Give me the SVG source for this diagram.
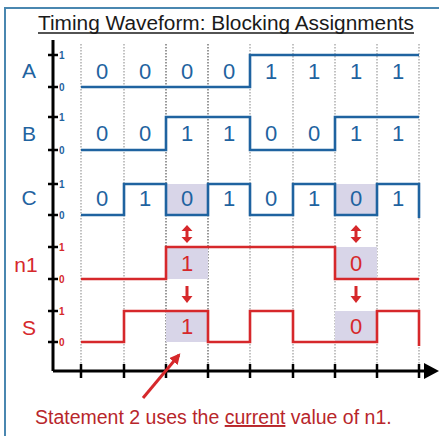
<svg xmlns="http://www.w3.org/2000/svg" width="439" height="436" viewBox="0 0 439 436">
<defs>
<style>
.bg{fill:#ffffff}
.frame{stroke:#4a87b0;stroke-width:2;fill:none}
.grid{stroke:#9a9a9a;stroke-width:1.2;stroke-dasharray:1.5 1.5;fill:none}
.gridd{stroke:#555;stroke-width:1.2;stroke-dasharray:1.5 1.5;fill:none}
.axis{stroke:#000;stroke-width:3;fill:none}
.tick{stroke:#000;stroke-width:2.5}
.blue{stroke:#1f63a0;stroke-width:2.6;fill:none;stroke-linejoin:miter}
.red{stroke:#d6282b;stroke-width:2.6;fill:none;stroke-linejoin:miter}
.shade{fill:#d8d5e8}
.sig{font-family:"Liberation Sans",Arial,sans-serif;font-size:21px;text-anchor:middle}
.dig{font-family:"Liberation Sans",Arial,sans-serif;font-size:22px;text-anchor:middle}
.tl{font-family:"Liberation Sans",Arial,sans-serif;font-size:10px;font-weight:bold;text-anchor:start}
.b{fill:#1f63a0}
.r{fill:#d6282b}
.arr{stroke:#d6282b;stroke-width:3;fill:none}
.head{fill:#d6282b}
</style>
<marker id="ah" viewBox="0 0 10 10" refX="8" refY="5" markerWidth="3.6" markerHeight="3.6" orient="auto-start-reverse">
<path d="M0,0 L10,5 L0,10 z" fill="#d6282b"/>
</marker>
</defs>
<rect class="bg" x="0" y="0" width="439" height="436"/>
<path class="frame" d="M5,436 V8 H439"/>

<g id="title">
<text x="226" y="30" font-family="Liberation Sans,Arial,sans-serif" font-size="19.5" fill="#1a1a1a" text-anchor="middle" textLength="376" lengthAdjust="spacingAndGlyphs">Timing Waveform: Blocking Assignments</text>
<line x1="38" y1="33" x2="414" y2="33" stroke="#1a1a1a" stroke-width="1.5"/>
</g>

<g id="grid">
<line class="grid" x1="81" y1="44" x2="81" y2="366"/>
<line class="grid" x1="124" y1="44" x2="124" y2="366"/>
<line class="gridd" x1="166" y1="44" x2="166" y2="366"/>
<line class="gridd" x1="208" y1="44" x2="208" y2="366"/>
<line class="grid" x1="250" y1="44" x2="250" y2="366"/>
<line class="grid" x1="293" y1="44" x2="293" y2="366"/>
<line class="grid" x1="335" y1="44" x2="335" y2="366"/>
<line class="grid" x1="377" y1="44" x2="377" y2="366"/>
<line class="grid" x1="419" y1="44" x2="419" y2="366"/>
</g>

<g id="shading">
<rect class="shade" x="166" y="184" width="42" height="31"/>
<rect class="shade" x="335" y="184" width="42" height="31"/>
<rect class="shade" x="166" y="247" width="42" height="32"/>
<rect class="shade" x="335" y="247" width="42" height="32"/>
<rect class="shade" x="166" y="311" width="42" height="31"/>
<rect class="shade" x="335" y="311" width="42" height="31"/>
</g>

<g id="axes">
<line class="axis" x1="53" y1="40" x2="53" y2="371"/>
<line class="axis" x1="53" y1="371" x2="428" y2="371"/>
<path d="M424,363 L439,371 L424,379 z" fill="#000"/>
<g class="tick">
<line x1="81" y1="364" x2="81" y2="378"/>
<line x1="124" y1="364" x2="124" y2="378"/>
<line x1="166" y1="364" x2="166" y2="378"/>
<line x1="208" y1="364" x2="208" y2="378"/>
<line x1="250" y1="364" x2="250" y2="378"/>
<line x1="293" y1="364" x2="293" y2="378"/>
<line x1="335" y1="364" x2="335" y2="378"/>
<line x1="377" y1="364" x2="377" y2="378"/>
<line x1="419" y1="364" x2="419" y2="378"/>
<line x1="48" y1="55" x2="58" y2="55"/>
<line x1="48" y1="87" x2="58" y2="87"/>
<line x1="48" y1="117" x2="58" y2="117"/>
<line x1="48" y1="150" x2="58" y2="150"/>
<line x1="48" y1="184" x2="58" y2="184"/>
<line x1="48" y1="215" x2="58" y2="215"/>
<line x1="48" y1="247" x2="58" y2="247"/>
<line x1="48" y1="279" x2="58" y2="279"/>
<line x1="48" y1="311" x2="58" y2="311"/>
<line x1="48" y1="342" x2="58" y2="342"/>
</g>
<g class="tl">
<text class="b" x="59" y="59">1</text>
<text class="b" x="59" y="91">0</text>
<text class="b" x="59" y="121">1</text>
<text class="b" x="59" y="154">0</text>
<text class="b" x="59" y="188">1</text>
<text class="b" x="59" y="219">0</text>
<text class="r" x="59" y="251">1</text>
<text class="r" x="59" y="283">0</text>
<text class="r" x="59" y="315">1</text>
<text class="r" x="59" y="346">0</text>
</g>
</g>

<g id="sigA">
<text class="sig b" x="29" y="78">A</text>
<path class="blue" d="M81,87 H250 V55 H419"/>
<g class="dig b">
<text x="102" y="79">0</text><text x="145" y="79">0</text><text x="187" y="79">0</text><text x="229" y="79">0</text>
<text x="271" y="79">1</text><text x="314" y="79">1</text><text x="356" y="79">1</text><text x="398" y="79">1</text>
</g>
</g>

<g id="sigB">
<text class="sig b" x="29" y="141">B</text>
<path class="blue" d="M81,150 H166 V117 H250 V150 H335 V117 H419"/>
<g class="dig b">
<text x="102" y="141">0</text><text x="145" y="141">0</text><text x="187" y="141">1</text><text x="229" y="141">1</text>
<text x="271" y="141">0</text><text x="314" y="141">0</text><text x="356" y="141">1</text><text x="398" y="141">1</text>
</g>
</g>

<g id="sigC">
<text class="sig b" x="29" y="205">C</text>
<path class="blue" d="M81,215 H124 V184 H166 V215 H208 V184 H250 V215 H293 V184 H335 V215 H377 V184 H419 V218"/>
<g class="dig b">
<text x="102" y="206">0</text><text x="145" y="206">1</text><text x="187" y="206">0</text><text x="229" y="206">1</text>
<text x="271" y="206">0</text><text x="314" y="206">1</text><text x="356" y="206">0</text><text x="398" y="206">1</text>
</g>
</g>

<g id="sigN1">
<text class="sig r" x="26" y="272">n1</text>
<path class="red" d="M81,279 H166 V247 H335 V279 H419"/>
<g class="dig r">
<text x="187" y="271">1</text><text x="356" y="271">0</text>
</g>
</g>

<g id="sigS">
<text class="sig r" x="29" y="335">S</text>
<path class="red" d="M81,342 H124 V311 H208 V342 H250 V311 H293 V342 H377 V311 H419 V346"/>
<g class="dig r">
<text x="187" y="334">1</text><text x="356" y="334">0</text>
</g>
</g>

<g id="connectors">
<line class="arr" x1="187" y1="230" x2="187" y2="238"/>
<path class="head" d="M181.5,231 L187,225 L192.5,231 z M181.5,237 L187,243 L192.5,237 z"/>
<line class="arr" x1="356" y1="230" x2="356" y2="238"/>
<path class="head" d="M350.5,231 L356,225 L361.5,231 z M350.5,237 L356,243 L361.5,237 z"/>
<line class="arr" x1="187" y1="286" x2="187" y2="297"/>
<path class="head" d="M181.5,296 L187,303 L192.5,296 z"/>
<line class="arr" x1="356" y1="286" x2="356" y2="297"/>
<path class="head" d="M350.5,296 L356,303 L361.5,296 z"/>
<line class="arr" x1="143" y1="398" x2="179" y2="355" marker-end="url(#ah)"/>
</g>

<g id="note">
<text x="35" y="424" font-family="Liberation Sans,Arial,sans-serif" font-size="19.5" fill="#b8262b">Statement 2 uses the <tspan text-decoration="underline">current</tspan> value of n1.</text>
</g>
</svg>
